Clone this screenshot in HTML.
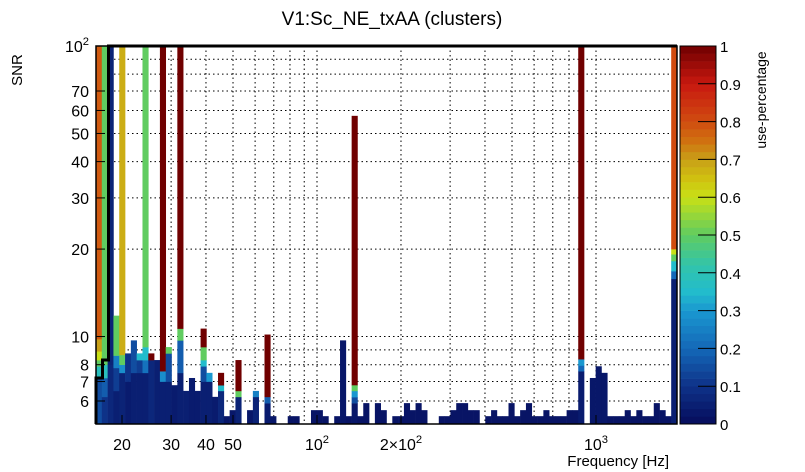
<!DOCTYPE html>
<html><head><meta charset="utf-8"><style>
html,body{margin:0;padding:0;background:#fff;}
svg{display:block;font-family:"Liberation Sans",sans-serif;}
</style></head><body>
<svg id="chart" width="805" height="472" viewBox="0 0 805 472" xmlns="http://www.w3.org/2000/svg">
<text x="392" y="25" font-size="19" text-anchor="middle">V1:Sc_NE_txAA (clusters)</text>
<text transform="translate(22,70) rotate(-90)" font-size="15" text-anchor="middle">SNR</text>
<text x="669" y="466" font-size="15" text-anchor="end">Frequency [Hz]</text>
<text transform="translate(766,100) rotate(-90)" font-size="14" text-anchor="middle">use-percentage</text>
<g id="grid"></g>
<g id="cells"></g>
<g id="axes"></g>
<g id="cbar"></g>
</svg>
<script>
const binIndex=[0,0,0,0,0,0, 1,1,1,1, 2,2, 3,3,3,3, 4,4,4,4, 5,5, 6,6, 7,7,7, 8,8,8,8, 9,9, 10, 11,11,11, 12,12,12, 13, 14,14,14,14, 15, 16, 17, 18,18,18,18,18, 19,19, 20, 21,21,21, 22, 23, 24,24,24, 26, 27,27, 29,29,29, 30, 33,34, 37,38, 39, 41, 42, 43, 44,44,44,44,44, 45,46,48,49,51,52,53,54,55,56,59,60,61,62,63,64,65,67,68,69,70,71,72,73,74,75,76,77,78,79,80,81,82, 83,83,83,83, 85,86,87,88,89,90,91,92,93,94,95,96,97,98, 99,99,99,99,99,99];
const snrLow=[5,7.2,7.9,8.3,8.9,9.8, 5,6.2,7.2,8.0, 5,8, 5,6.5,7.8,8.6, 5,7.5,8.0,8.65, 5,7.0, 5,7.5, 5,7.5,8.3, 5,7.5,8.3,9.2, 5,8.3, 5, 5,7.0,7.6, 5,7.0,8.75, 5, 5,7.5,9.7,10.65, 5, 5, 5, 5,7.0,7.9,8.3,9.2, 5,7.0, 5, 5,6.5,6.8, 5, 5, 5,6.2,6.5, 5, 5,6.2, 5,5.9,6.2, 5, 5,5, 5,5, 5, 5, 5, 5, 5,5.9,6.19,6.5,6.81, 5,5,5,5,5,5,5,5,5,5,5,5,5,5,5,5,5,5,5,5,5,5,5,5,5,5,5,5,5,5,5,5,5, 5,7.6,7.95,8.36, 5,5,5,5,5,5,5,5,5,5,5,5,5,5, 5,15.8,16.8,18.2,19.2,20];
const snrHigh=[7.2,7.9,8.3,8.9,9.8,100, 6.2,7.2,8.0,100, 8,100, 6.5,7.8,8.6,11.8, 7.5,8.0,8.65,100, 7.0,8.75, 7.5,9.7, 7.5,8.3,8.75, 7.5,8.3,9.2,100, 8.3,8.75, 8.3, 7.0,7.6,100, 7.0,8.75,9.2, 6.8, 7.5,9.7,10.65,100, 6.5, 7.2, 6.5, 7.0,7.9,8.3,9.2,10.65, 7.0,7.5, 6.2, 6.5,6.8,7.5, 5.32, 5.58, 6.2,6.5,8.3, 5.58, 6.2,6.5, 5.9,6.2,10.16, 5.32, 5.32,5.32, 5.58,5.58, 5.32, 5.32, 9.7, 5.32, 5.9,6.19,6.5,6.81,57.5, 5.32,5.9,5.9,5.58,5.32,5.32,5.9,5.58,5.9,5.58,5.32,5.32,5.58,5.9,5.9,5.58,5.58,5.32,5.58,5.32,5.32,5.9,5.32,5.58,5.9,5.32,5.32,5.58,5.32,5.32,5.32,5.58,5.58, 7.6,7.95,8.36,100, 7.2,7.9,7.5,5.32,5.32,5.32,5.58,5.32,5.58,5.32,5.32,5.9,5.58,5.32, 15.8,16.8,18.2,19.2,20,100];
const usePct=[0.15,0.38,0.5,0.6,0.7,0.78, 0.1,0.18,0.38,0.5, 0.07,0.06, 0.05,0.12,0.25,0.5, 0.06,0.28,0.5,0.68, 0.04,0.1, 0.05,0.15, 0.05,0.12,0.35, 0.05,0.22,0.35,0.5, 0.07,1, 0.05, 0.05,0.28,1, 0.05,0.15,0.5, 0.04, 0.05,0.18,0.5,1, 0.05, 0.04, 0.04, 0.05,0.15,0.35,0.5,1, 0.05,0.3, 0.04, 0.07,0.35,1, 0.03, 0.03, 0.06,0.5,1, 0.03, 0.06,0.25, 0.04,0.18,1, 0.03, 0.02,0.02, 0.02,0.02, 0.02, 0.02, 0.03, 0.02, 0.03,0.15,0.3,0.5,1, 0.02,0.02,0.02,0.02,0.02,0.02,0.02,0.02,0.02,0.02,0.02,0.02,0.02,0.02,0.02,0.02,0.02,0.02,0.02,0.02,0.02,0.02,0.02,0.02,0.02,0.02,0.02,0.02,0.02,0.02,0.02,0.02,0.02, 0.04,0.2,0.3,1, 0.03,0.03,0.03,0.02,0.02,0.02,0.02,0.02,0.02,0.02,0.02,0.02,0.02,0.02, 0.05,0.2,0.35,0.5,0.6,0.8];
const xTickValues=[20,30,40,50,100,200,1000];
const xTickLabels=["20","30","40","50","10|2","2×10|2","10|3"];
const yTickValues=[6,7,8,10,20,30,40,50,60,70,100];
const yTickLabels=["6","7","8","10","20","30","40","50","60","70","10|2"];
const cbarTicks=[0,0.1,0.2,0.3,0.4,0.5,0.6,0.7,0.8,0.9,1];
const cbarLabels=["0","0.1","0.2","0.3","0.4","0.5","0.6","0.7","0.8","0.9","1"];

const NS="http://www.w3.org/2000/svg";
const PL=96,PR=677,PT=46,PB=424;
const fMin=Math.pow(10,2+(PL-317)/279), fMax=Math.pow(10,2+(PR-317)/279);
const nBins=100;
function xScale(f){return PL+(Math.log10(f)-Math.log10(fMin))/(Math.log10(fMax)-Math.log10(fMin))*(PR-PL);}
function yScale(s){return PB-(Math.log10(s)-Math.log10(5))/(Math.log10(100)-Math.log10(5))*(PB-PT);}
function binEdge(i){return fMin*Math.pow(fMax/fMin,i/nBins);}
const stops=[[0,[6,12,92]],[0.1,[14,50,136]],[0.2,[20,104,184]],[0.3,[26,152,208]],[0.35,[34,188,204]],[0.42,[50,196,170]],[0.5,[96,204,96]],[0.6,[200,224,22]],[0.65,[208,192,16]],[0.7,[200,160,24]],[0.75,[208,112,16]],[0.8,[208,76,16]],[0.9,[200,24,16]],[1,[112,0,0]]];
function cmap(v){v=Math.max(0,Math.min(1,v));for(let k=1;k<stops.length;k++){if(v<=stops[k][0]){const a=stops[k-1],b=stops[k],t=(v-a[0])/(b[0]-a[0]);const c=a[1].map((x,j)=>Math.round(x+(b[1][j]-x)*t));return `rgb(${c[0]},${c[1]},${c[2]})`;}}return 'rgb(112,0,0)';}
function mk(tag,attrs,parent){const e=document.createElementNS(NS,tag);for(const k in attrs)e.setAttribute(k,attrs[k]);parent.appendChild(e);return e;}
function supText(parent,x,y,label,anchor,size){const t=mk('text',{x:x,y:y,'font-size':size,'text-anchor':anchor},parent);const p=label.split('|');t.appendChild(document.createTextNode(p[0]));if(p[1]){const s=mk('tspan',{dy:-7,'font-size':size*0.7},t);s.textContent=p[1];}return t;}

const grid=document.getElementById('grid');
const gx=[];for(let d=10;d<=1000;d*=10)for(let m=1;m<10;m++){const f=d*m;if(f>fMin&&f<fMax)gx.push(f);}
gx.forEach(f=>{const l=mk('line',{x1:xScale(f),x2:xScale(f),y1:PT,y2:PB,stroke:'#000','stroke-width':1,'stroke-dasharray':'1.5,3'},grid);

});
const gy=[6,7,8,9,10,20,30,40,50,60,70,80,90];
gy.forEach(s=>{const l=mk('line',{x1:PL,x2:PR,y1:yScale(s),y2:yScale(s),stroke:'#000','stroke-width':1,'stroke-dasharray':'1.5,3'},grid);

});

const cells=document.getElementById('cells');
for(let k=0;k<binIndex.length;k++){const i=binIndex[k];const x0=xScale(binEdge(i)),x1=xScale(binEdge(i+1));const y0=yScale(snrHigh[k]),y1=yScale(snrLow[k]);
const r=mk('rect',{x:x0.toFixed(2),y:y0.toFixed(2),width:(x1-x0+0.3).toFixed(2),height:(y1-y0+0.3).toFixed(2),fill:cmap(usePct[k])},cells);

}

const axes=document.getElementById('axes');
const contour=mk('polyline',{points:`${PR},${PT} 108.5,${PT} 108.5,${yScale(8.3)} 102.5,${yScale(8.3)} 102.5,${yScale(7.2)} ${PL},${yScale(7.2)} ${PL},${PB}`,fill:'none',stroke:'#000','stroke-width':3},axes);


const frame=mk('rect',{x:PL,y:PT,width:PR-PL,height:PB-PT,fill:'none',stroke:'#000','stroke-width':1.5},axes);


xTickValues.forEach((f,i)=>{const x=xScale(f);mk('line',{x1:x,x2:x,y1:PB,y2:PB-9,stroke:'#000'},axes);
const t=supText(axes,x,450,xTickLabels[i],'middle',16);

});
yTickValues.forEach((s,i)=>{const y=yScale(s);mk('line',{x1:PL,x2:PL+9,y1:y,y2:y,stroke:'#000'},axes);
const t=supText(axes,89,y+6,yTickLabels[i],'end',16);

});

const cb=document.getElementById('cbar');
const CX=680,CW=36;const N=50;
for(let k=0;k<N;k++){const y0=PB-(k+1)/N*(PB-PT),h=(PB-PT)/N;const r=mk('rect',{x:CX,y:y0.toFixed(2),width:CW,height:(h+0.3).toFixed(2),fill:cmap((k+0.5)/N)},cb);

}
mk('rect',{x:CX,y:PT,width:CW,height:PB-PT,fill:'none',stroke:'#000','stroke-width':1},cb);
cbarTicks.forEach((v,i)=>{const y=PB-v*(PB-PT);mk('line',{x1:CX+CW-18,x2:CX+CW,y1:y,y2:y,stroke:'#000'},cb);
const t=mk('text',{x:CX+CW+4,y:y+6,'font-size':15},cb);t.textContent=cbarLabels[i];

});
</script>
</body></html>
